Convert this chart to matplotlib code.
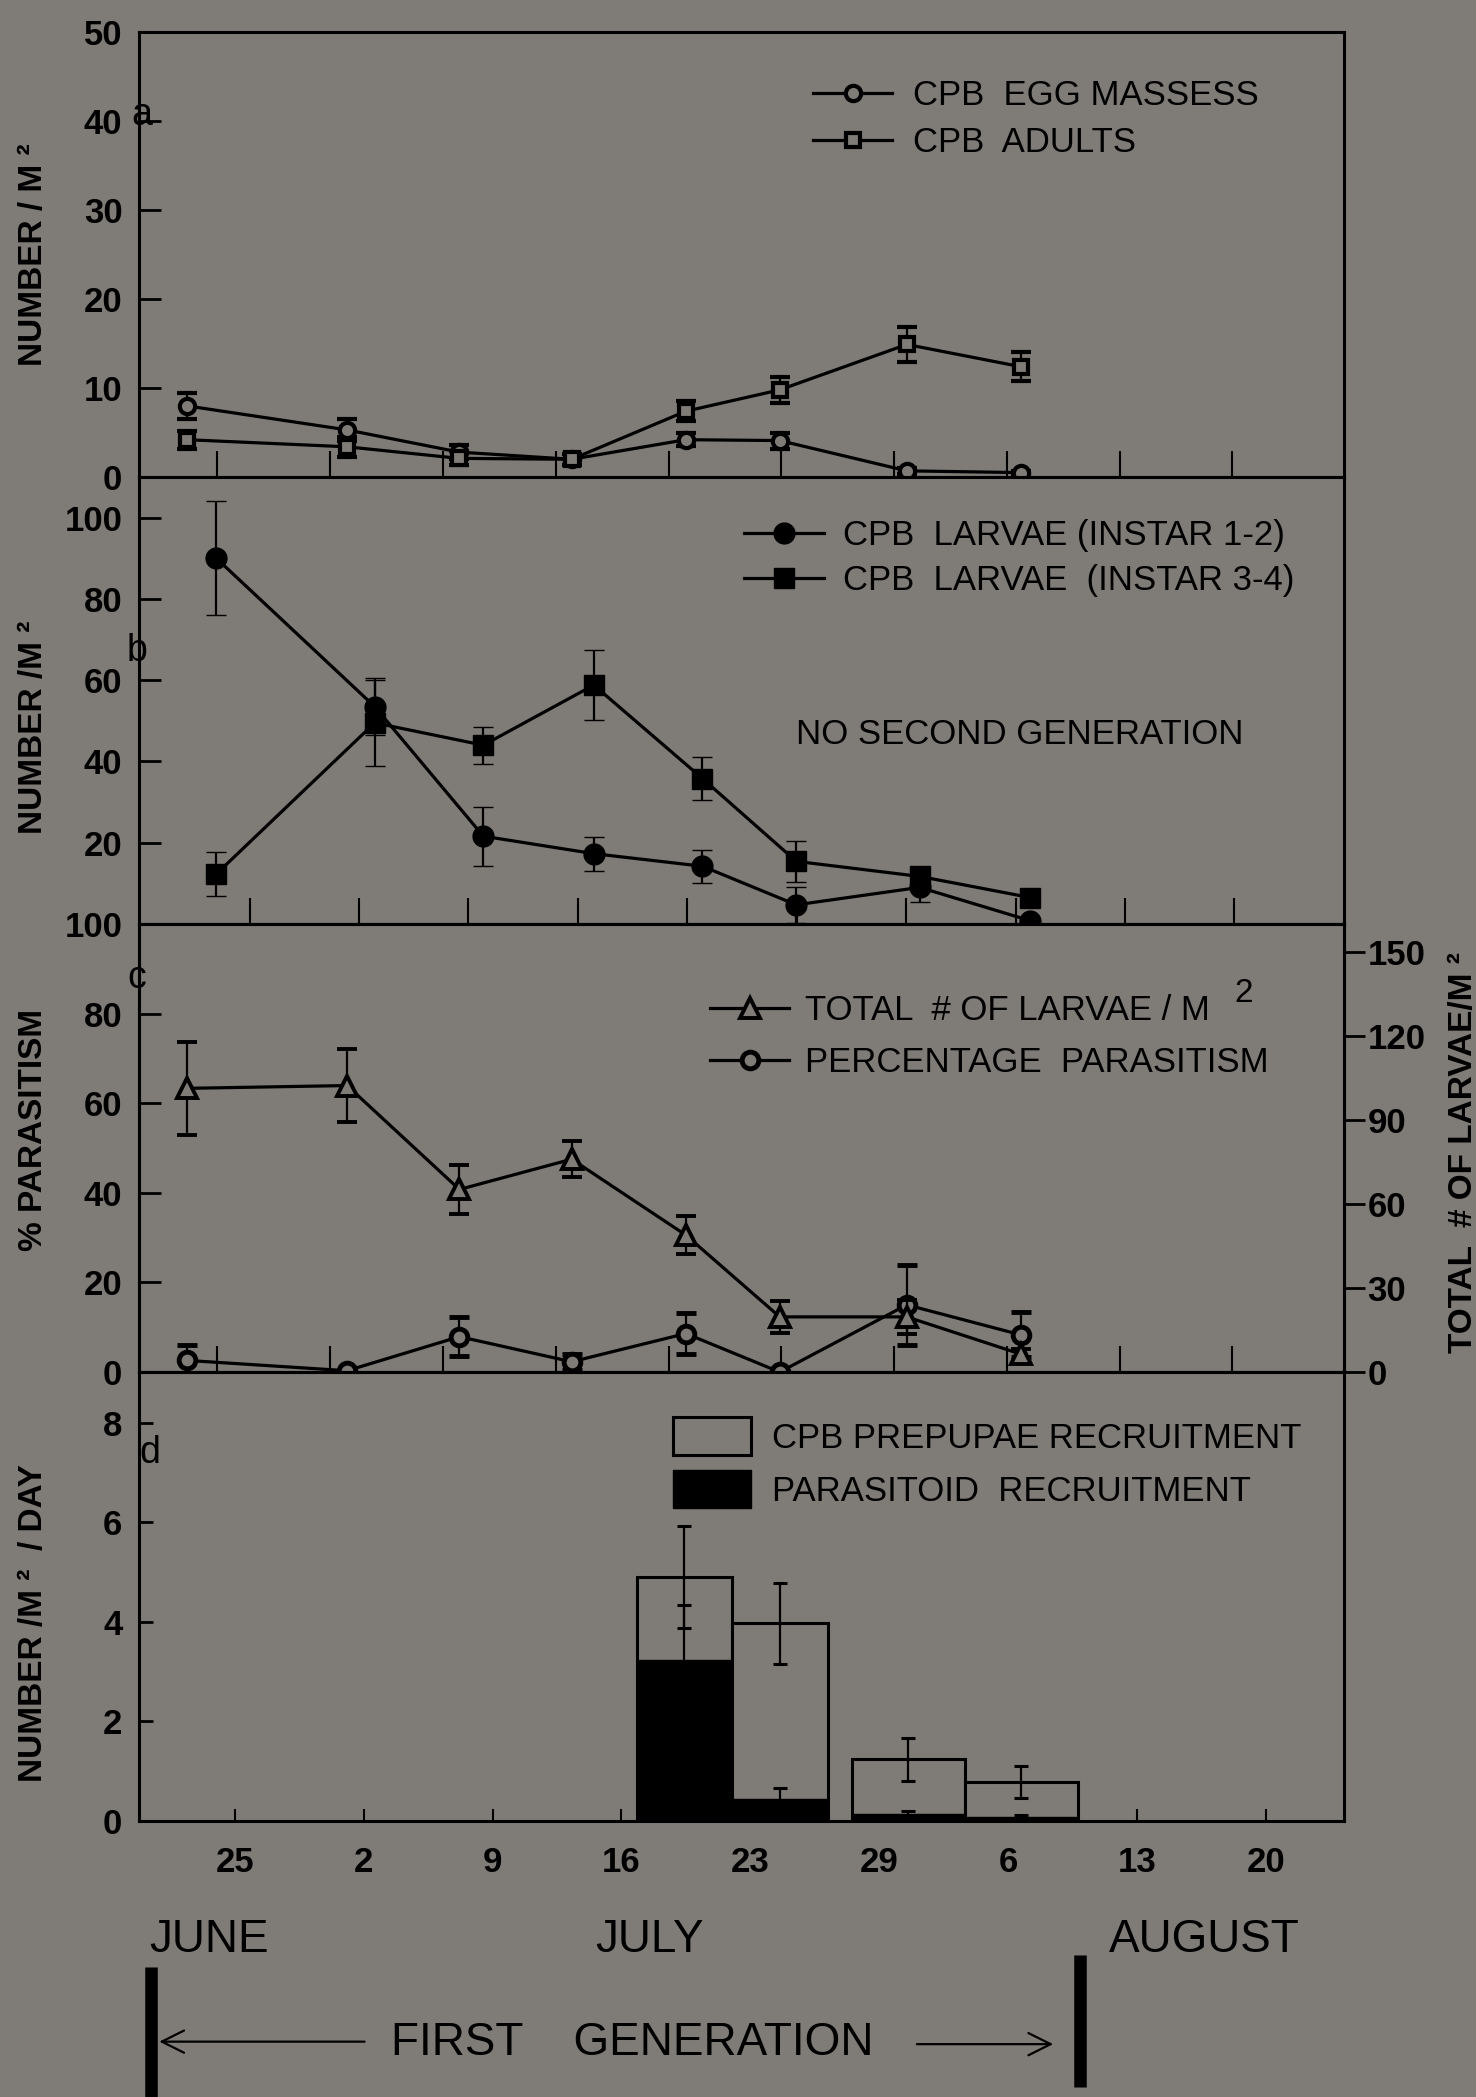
import numpy as np
import matplotlib.pyplot as plt
import matplotlib.transforms as mtransforms
from matplotlib.lines import Line2D
from matplotlib.patches import Patch

plt.rcParams['font.family'] = ['Liberation Sans', 'DejaVu Sans']
plt.rcParams['mathtext.default'] = 'regular'

BG = '#7f7c77'

# day numbers counted from 31 May (25 = June 25, 32 = July 2, ...)
dates_ac = [22.4, 31.1, 37.2, 43.3, 49.5, 54.6, 61.5, 67.7]
dates_b = [24.0, 32.6, 38.5, 44.5, 50.4, 55.5, 62.2, 68.2]

# (a) egg masses and adults per m2
egg_masses = [8.0, 5.3, 2.8, 2.0, 4.2, 4.1, 0.7, 0.5]
egg_err = [1.5, 1.2, 0.8, 0.6, 0.7, 0.9, 0.3, 0.2]
adults = [4.2, 3.4, 2.1, 2.0, 7.4, 9.8, 14.9, 12.4]
adults_err = [1.0, 1.1, 0.8, 0.6, 1.1, 1.5, 2.0, 1.6]

# (b) larvae per m2
instar12 = [90.0, 53.5, 21.6, 17.3, 14.2, 4.7, 9.0, 0.8]
instar12_err = [14.0, 7.0, 7.3, 4.2, 4.0, 4.4, 3.6, 0.0]
instar34 = [12.3, 49.5, 44.0, 58.8, 35.8, 15.4, 11.7, 6.5]
instar34_err = [5.3, 10.5, 4.6, 8.7, 5.4, 5.0, 1.0, 1.5]

# (c) total larvae (right axis) and % parasitism (left axis)
total_larvae = [101.3, 102.3, 65.2, 76.0, 48.9, 19.7, 19.7, 6.4]
total_err = [16.5, 13.0, 8.6, 6.4, 6.8, 5.6, 6.0, 2.0]
parasitism = [2.6, 0.3, 7.9, 2.3, 8.6, 0.0, 15.0, 8.3]
parasitism_err = [3.5, 0.0, 4.3, 1.8, 4.6, 0.0, 9.0, 5.0]

# (d) recruitment per m2 per day over collection intervals
bar_start = [46.84, 52.0, 58.51, 64.65]
bar_end = [52.0, 57.21, 64.65, 70.79]
prepupae = [4.90, 3.97, 1.24, 0.78]
prepupae_err = [1.03, 0.82, 0.43, 0.32]
parasitoid = [3.24, 0.45, 0.15, 0.09]
parasitoid_err = [1.10, 0.22, 0.05, 0.04]

day_ticks = [25, 32, 39, 46, 53, 60, 67, 74, 81]
day_labels = ['25', '2', '9', '16', '23', '29', '6', '13', '20']
first_generation = (20.45, 70.9)

XMIN, XMAX = 19.8, 85.25
TICK_FS = 25
LEG_FS = 25
LAB_FS = 24
LW = 2.3

fig = plt.figure(figsize=(14.76, 20.97), dpi=100, facecolor=BG)

left, width = 0.0942, 0.8164
ax_a = fig.add_axes([left, 0.7725, width, 0.2122])
ax_b = fig.add_axes([left, 0.5594, width, 0.2131])
ax_c = fig.add_axes([left, 0.3457, width, 0.2137])
ax_d = fig.add_axes([left, 0.1316, width, 0.2141])

for ax in (ax_a, ax_b, ax_c, ax_d):
    ax.set_facecolor(BG)
    ax.set_xlim(XMIN, XMAX)
    for s in ax.spines.values():
        s.set_linewidth(2.2)
    ax.tick_params(axis='y', direction='in', length=16, width=2,
                   labelsize=TICK_FS, pad=12)
    for t in ax.get_yticklabels():
        t.set_fontweight('bold')

# unlabelled weekly ticks of the upper panels
ticks_ac = np.linspace(24.06, 79.18, 10)
ticks_b = np.linspace(25.8, 79.3, 10)
for ax, tk in ((ax_a, ticks_ac), (ax_b, ticks_b), (ax_c, ticks_ac)):
    ax.set_xticks(tk)
    ax.tick_params(axis='x', direction='in', length=19, width=1.5,
                   labelbottom=False)


def series(ax, x, y, err, marker, ms, mfc, mew):
    eb = ax.errorbar(x, y, yerr=err, color='k', lw=LW, marker=marker, ms=ms,
                     mfc=mfc, mec='k', mew=mew, ecolor='k', elinewidth=1.6,
                     capsize=7, capthick=2.2, zorder=3)
    eb[0].set_clip_on(False)
    return eb


def handle(marker, ms, mfc, mew):
    return Line2D([], [], color='k', lw=LW, marker=marker, ms=ms, mfc=mfc,
                  mec='k', mew=mew)


def ylab(ax, text, x, y):
    ax.set_ylabel(text, fontsize=LAB_FS, fontweight='bold')
    ax.yaxis.set_label_coords(x, y)


# ---- (a)
series(ax_a, dates_ac, egg_masses, egg_err, 'o', 11, BG, 3)
series(ax_a, dates_ac, adults, adults_err, 's', 10, BG, 3)
ax_a.set_ylim(0, 50)
ax_a.set_yticks(range(0, 51, 10))
ylab(ax_a, 'NUMBER / M ²', -0.075, 0.50)
ax_a.legend([handle('o', 11, BG, 3), handle('s', 10, BG, 3)],
            ['CPB  EGG MASSESS', 'CPB  ADULTS'],
            loc='upper left', bbox_to_anchor=(0.559, 0.894), frameon=False,
            fontsize=LEG_FS, handlelength=2.3, handletextpad=0.6,
            borderpad=0, borderaxespad=0, labelspacing=0.4)
ax_a.text(-0.006, 0.813, 'a', transform=ax_a.transAxes, fontsize=27,
          ha='left', va='center')

# ---- (b)
series(ax_b, dates_b, instar12, instar12_err, 'o', 15, 'k', 1)
series(ax_b, dates_b, instar34, instar34_err, 's', 14, 'k', 1)
ax_b.set_ylim(0, 110)
ax_b.set_yticks([20, 40, 60, 80, 100])
ylab(ax_b, 'NUMBER /M ²', -0.075, 0.44)
ax_b.legend([handle('o', 15, 'k', 1), handle('s', 14, 'k', 1)],
            ['CPB  LARVAE (INSTAR 1-2)', 'CPB  LARVAE  (INSTAR 3-4)'],
            loc='upper left', bbox_to_anchor=(0.502, 0.906), frameon=False,
            fontsize=LEG_FS, handlelength=2.3, handletextpad=0.55,
            borderpad=0, borderaxespad=0, labelspacing=0.35)
ax_b.text(0.731, 0.425, 'NO SECOND GENERATION', transform=ax_b.transAxes,
          fontsize=LEG_FS, ha='center', va='center')
ax_b.text(-0.01, 0.61, 'b', transform=ax_b.transAxes, fontsize=27,
          ha='left', va='center')

# ---- (c)
ax_c2 = ax_c.twinx()
ax_c2.set_xlim(XMIN, XMAX)
series(ax_c, dates_ac, parasitism, parasitism_err, 'o', 12, BG, 3.5)
series(ax_c2, dates_ac, total_larvae, total_err, '^', 15, BG, 2.8)
ax_c.set_ylim(0, 100)
ax_c.set_yticks(range(0, 101, 20))
ax_c2.set_ylim(0, 160)
ax_c2.set_yticks(range(0, 151, 30))
ax_c2.tick_params(axis='y', direction='out', length=15, width=2,
                  labelsize=TICK_FS, pad=2)
for t in ax_c2.get_yticklabels():
    t.set_fontweight('bold')
for s in ax_c2.spines.values():
    s.set_linewidth(2.2)
ylab(ax_c, '% PARASITISM', -0.075, 0.54)
ax_c2.set_ylabel('TOTAL  # OF LARVAE/M ²', fontsize=LAB_FS, fontweight='bold')
ax_c2.yaxis.set_label_coords(1.086, 0.49)
leg_c = ax_c2.legend([handle('^', 15, BG, 2.8), handle('o', 12, BG, 3.5)],
                     ['TOTAL  # OF LARVAE / M', 'PERCENTAGE  PARASITISM'],
                     loc='upper left', bbox_to_anchor=(0.4735, 0.843),
                     frameon=False, fontsize=LEG_FS, handlelength=2.3,
                     handletextpad=0.45, borderpad=0, borderaxespad=0,
                     labelspacing=0.53)
ax_c.text(-0.01, 0.88, 'c', transform=ax_c.transAxes, fontsize=27,
          ha='left', va='center')

# ---- (d)
starts = np.array(bar_start)
widths = np.array(bar_end) - starts
mids = starts + widths / 2
ax_d.bar(starts, prepupae, width=widths, align='edge', color=BG,
         edgecolor='k', lw=2.2, zorder=2)
ax_d.bar(starts, parasitoid, width=widths, align='edge', color='k',
         edgecolor='k', lw=1, zorder=2)
ax_d.errorbar(mids, prepupae, yerr=prepupae_err, fmt='none', ecolor='k',
              elinewidth=1.6, capsize=5, capthick=2.2, zorder=3)
ax_d.errorbar(mids, parasitoid, yerr=parasitoid_err, fmt='none', ecolor='k',
              elinewidth=1.6, capsize=5, capthick=2.2, zorder=3)
ax_d.set_ylim(0, 9.02)
ax_d.set_yticks(range(0, 9, 2))
ax_d.tick_params(axis='y', length=10)
ax_d.set_xticks(day_ticks)
ax_d.set_xticklabels(day_labels, fontsize=TICK_FS, fontweight='bold')
ax_d.tick_params(axis='x', direction='in', length=9, width=1.5, pad=18)
ylab(ax_d, 'NUMBER /M ²  / DAY', -0.075, 0.44)
ax_d.legend([Patch(facecolor=BG, edgecolor='k', lw=2.2),
             Patch(facecolor='k', edgecolor='k')],
            ['CPB PREPUPAE RECRUITMENT', 'PARASITOID  RECRUITMENT'],
            loc='upper left', bbox_to_anchor=(0.443, 0.90), frameon=False,
            fontsize=LEG_FS, handlelength=2.25, handleheight=1.3,
            handletextpad=0.6, borderpad=0, borderaxespad=0,
            labelspacing=0.45)
ax_d.text(0.0, 0.82, 'd', transform=ax_d.transAxes, fontsize=27,
          ha='left', va='center')

# ---- months and the first-generation span below the time axis
for name, xf in (('JUNE', 0.101), ('JULY', 0.403), ('AUGUST', 0.7514)):
    fig.text(xf, 0.0691, name, fontsize=33, va='baseline', ha='left')

trans = mtransforms.blended_transform_factory(ax_d.transData, fig.transFigure)
g0, g1 = first_generation
fig.add_artist(Line2D([g0, g0], [0.0, 0.062], transform=trans, lw=9,
                      color='k', solid_capstyle='butt'))
fig.add_artist(Line2D([g1, g1], [0.0048, 0.0677], transform=trans, lw=9,
                      color='k', solid_capstyle='butt'))
arrow = dict(arrowstyle='->', lw=1.6, color='k', mutation_scale=40)
ax_d.annotate('', xy=(g0 + 0.3, 0.0264), xytext=(32.2, 0.0264),
              xycoords=trans, textcoords=trans, arrowprops=arrow)
ax_d.annotate('', xy=(g1 - 1.3, 0.0252), xytext=(61.9, 0.0252),
              xycoords=trans, textcoords=trans, arrowprops=arrow)
fig.text(0.265, 0.0258, 'FIRST    GENERATION', fontsize=33,
         ha='left', va='center')

# raised "2" after the first legend entry of panel c
fig.canvas.draw()
bb = leg_c.get_texts()[0].get_window_extent()
W, H = fig.bbox.width, fig.bbox.height
fig.text((bb.x1 + 24) / W, (bb.y1 - 8) / H, '2', fontsize=24,
         ha='left', va='baseline')

fig.savefig('out.png', dpi=100, facecolor=BG)
